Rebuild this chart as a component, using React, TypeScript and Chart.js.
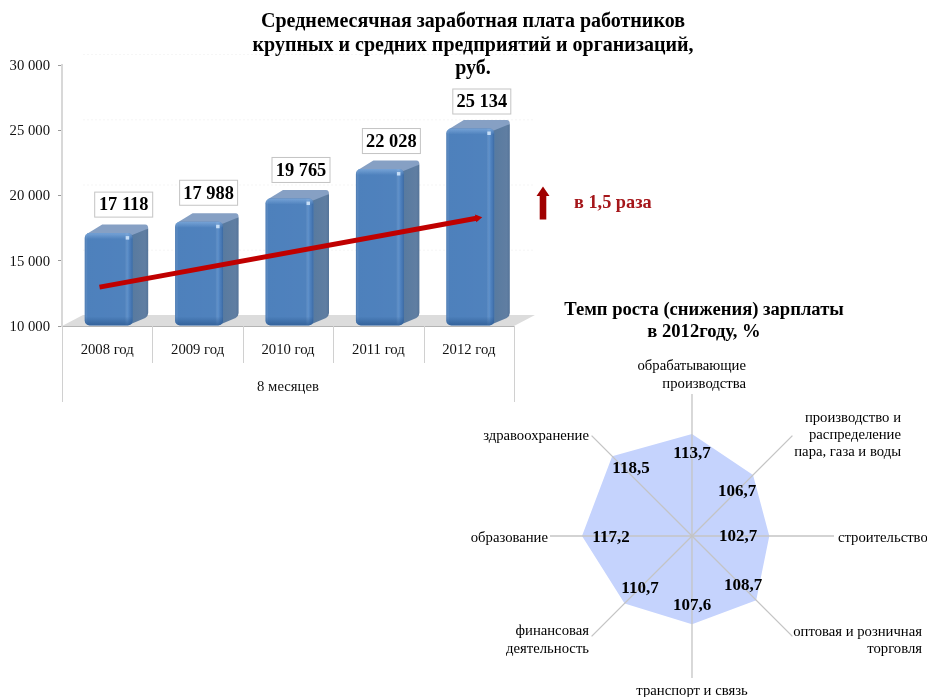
import React, { useEffect, useRef } from "react";
import { Chart, registerables } from "chart.js";

Chart.register(...registerables);

const SERIF = "'Liberation Serif', serif";

// ---- data ----
const years = ["2008 год", "2009 год", "2010 год", "2011 год", "2012 год"];
const salaries = [17118, 17988, 19765, 22028, 25134];
const salaryLabels = ["17 118", "17 988", "19 765", "22 028", "25 134"];
const trendX = [0.415, 4.6];
const trendY = [12980, 18280];
const periodLabel = "8 месяцев";

const sectors = [
  ["обрабатывающие", "производства"],
  ["производство и", "распределение", "пара, газа и воды"],
  ["строительство"],
  ["оптовая и розничная", "торговля"],
  ["транспорт и связь"],
  ["финансовая", "деятельность"],
  ["образование"],
  ["здравоохранение"],
];
const growth = [113.7, 106.7, 102.7, 108.7, 107.6, 110.7, 117.2, 118.5];
const growthLabels = ["113,7", "106,7", "102,7", "108,7", "107,6", "110,7", "117,2", "118,5"];

const mainTitle = [
  "Среднемесячная заработная плата работников",
  "крупных и средних предприятий и организаций,",
  "руб.",
];
const radarTitle = ["Темп роста (снижения) зарплаты", "в 2012году, %"];
const growthNote = "в 1,5 раза";

// ---- layout ----
const W = 927;
const H = 697;
const BAR_SHIFT = 1.5;
const DEPTH_X = 15.5;
const DEPTH_Y = 8.5;
const BAR_LABEL_DX = [15, 9.5, 11.5, 11.5, 11.5];
const BAR_LABEL_DY = [28.5, 29, 28.6, 28, 27];
const VALUE_POS = [
  [0, -83],
  [45, -45],
  [46, 0],
  [51, 49],
  [0, 69],
  [-52, 52],
  [-81, 1],
  [-61, -68],
];
type Lab = { x: number; ys: number[]; align: CanvasTextAlign };
const SECTOR_POS: Lab[] = [
  { x: 746, ys: [365, 383], align: "right" },
  { x: 901, ys: [417, 434, 451], align: "right" },
  { x: 838, ys: [537], align: "left" },
  { x: 922, ys: [631, 648], align: "right" },
  { x: 692, ys: [690], align: "center" },
  { x: 589, ys: [630, 648], align: "right" },
  { x: 548, ys: [537], align: "right" },
  { x: 589, ys: [435], align: "right" },
];

function put(
  ctx: CanvasRenderingContext2D,
  s: string,
  x: number,
  y: number,
  font: string,
  align: CanvasTextAlign = "center",
  color = "#000"
) {
  ctx.font = font;
  ctx.textAlign = align;
  ctx.textBaseline = "middle";
  ctx.fillStyle = color;
  ctx.fillText(s, x, y + 1);
}

const bar3d = {
  id: "bar3d",
  beforeDatasetsDraw(chart: any) {
    const { ctx, chartArea: a } = chart;
    const yScale = chart.scales.y;
    ctx.save();
    // back-wall grid
    ctx.strokeStyle = "rgba(190,190,190,0.14)";
    ctx.setLineDash([2, 2]);
    ctx.lineWidth = 1;
    yScale.ticks.forEach((t: any) => {
      if (t.value === yScale.min) return;
      const y = yScale.getPixelForValue(t.value) - 10.5;
      ctx.beginPath();
      ctx.moveTo(a.left + 21, y);
      ctx.lineTo(a.right + 21, y);
      ctx.stroke();
    });
    ctx.setLineDash([]);
    // floor
    ctx.fillStyle = "#dcdcdc";
    ctx.beginPath();
    ctx.moveTo(a.left, a.bottom);
    ctx.lineTo(a.left + 21, a.bottom - 11);
    ctx.lineTo(a.right + 21, a.bottom - 11);
    ctx.lineTo(a.right, a.bottom);
    ctx.closePath();
    ctx.fill();
    // category separators
    ctx.strokeStyle = "#d0d0d0";
    ctx.lineWidth = 1;
    const xs = chart.scales.x;
    for (let i = 0; i <= years.length; i++) {
      const x = Math.round(a.left + (i * (a.right - a.left)) / years.length) + 0.5;
      const end = i === 0 || i === years.length ? xs.bottom : a.bottom + 37;
      ctx.beginPath();
      ctx.moveTo(x, a.bottom);
      ctx.lineTo(x, end);
      ctx.stroke();
    }
    ctx.restore();
  },
  beforeDatasetDraw(chart: any, args: any) {
    if (args.meta.type !== "bar") return;
    const { ctx } = chart;
    ctx.save();
    ctx.translate(BAR_SHIFT, 0);
    args.meta.data.forEach((b: any) => {
      const l = b.x - b.width / 2;
      const r = b.x + b.width / 2;
      const t = b.y;
      const bt = b.base;
      // top face
      ctx.fillStyle = "#86A0C4";
      ctx.beginPath();
      ctx.moveTo(l + 2, t + 1);
      ctx.lineTo(l + 2 + DEPTH_X, t - DEPTH_Y);
      ctx.lineTo(r + DEPTH_X - 3, t - DEPTH_Y);
      ctx.quadraticCurveTo(r + DEPTH_X, t - DEPTH_Y, r + DEPTH_X, t - DEPTH_Y + 4);
      ctx.lineTo(r, t + 6);
      ctx.closePath();
      ctx.fill();
      // side face
      const g = ctx.createLinearGradient(r, 0, r + DEPTH_X, 0);
      g.addColorStop(0, "#587A9F");
      g.addColorStop(0.8, "#607EA2");
      g.addColorStop(1, "#557499");
      ctx.fillStyle = g;
      ctx.beginPath();
      ctx.moveTo(r - 3, t + 3);
      ctx.lineTo(r + DEPTH_X, t - DEPTH_Y + 4);
      ctx.lineTo(r + DEPTH_X, bt - DEPTH_Y - 4);
      ctx.quadraticCurveTo(r + DEPTH_X, bt - DEPTH_Y - 1, r + DEPTH_X - 3, bt - DEPTH_Y + 1);
      ctx.lineTo(r - 3, bt - 1);
      ctx.closePath();
      ctx.fill();
    });
  },
  afterDatasetDraw(chart: any, args: any) {
    if (args.meta.type !== "bar") return;
    const { ctx } = chart;
    args.meta.data.forEach((b: any) => {
      const l = b.x - b.width / 2;
      const w = b.width;
      const t = b.y;
      const h = b.base - b.y;
      ctx.save();
      ctx.beginPath();
      ctx.roundRect(l, t, w, h, 5);
      ctx.clip();
      const gh = ctx.createLinearGradient(l, 0, l + w, 0);
      gh.addColorStop(0, "rgba(60,100,150,0.35)");
      gh.addColorStop(0.06, "rgba(255,255,255,0.02)");
      gh.addColorStop(0.84, "rgba(255,255,255,0.03)");
      gh.addColorStop(0.9, "rgba(130,180,235,0.3)");
      gh.addColorStop(0.96, "rgba(60,100,160,0.2)");
      gh.addColorStop(1, "rgba(40,80,130,0.5)");
      ctx.fillStyle = gh;
      ctx.fillRect(l, t, w, h);
      const gv = ctx.createLinearGradient(0, b.base - 9, 0, b.base);
      gv.addColorStop(0, "rgba(40,85,140,0)");
      gv.addColorStop(1, "rgba(40,85,140,0.7)");
      ctx.fillStyle = gv;
      ctx.fillRect(l, b.base - 9, w, 9);
      const gt = ctx.createLinearGradient(0, t, 0, t + 6);
      gt.addColorStop(0, "rgba(150,190,235,0.55)");
      gt.addColorStop(1, "rgba(150,190,235,0)");
      ctx.fillStyle = gt;
      ctx.fillRect(l, t, w, 6);
      ctx.fillStyle = "rgba(215,235,255,0.85)";
      ctx.fillRect(l + w - 7, t + 3, 3.5, 3.5);
      ctx.restore();
    });
    ctx.restore();
  },
  afterDraw(chart: any) {
    const { ctx } = chart;
    ctx.save();
    mainTitle.forEach((s, i) =>
      put(ctx, s, 473, 21 + i * 23.5, `bold 20px ${SERIF}`)
    );
    const bars = chart.getDatasetMeta(0).data;
    bars.forEach((b: any, i: number) => {
      const cx = b.x + BAR_SHIFT + BAR_LABEL_DX[i];
      const cy = b.y - BAR_LABEL_DY[i];
      ctx.fillStyle = "#fff";
      ctx.strokeStyle = "#c4c4c4";
      ctx.lineWidth = 1;
      ctx.fillRect(cx - 29, cy - 12.5, 58, 25);
      ctx.strokeRect(cx - 29, cy - 12.5, 58, 25);
      put(ctx, salaryLabels[i], cx, cy, `bold 18.4px ${SERIF}`);
    });
    // growth arrow
    ctx.fillStyle = "#A00000";
    ctx.beginPath();
    ctx.moveTo(543, 186.5);
    ctx.lineTo(549.5, 196);
    ctx.lineTo(546.3, 196);
    ctx.lineTo(546.3, 219.5);
    ctx.lineTo(539.7, 219.5);
    ctx.lineTo(539.7, 196);
    ctx.lineTo(536.5, 196);
    ctx.closePath();
    ctx.fill();
    put(ctx, growthNote, 574, 202, `bold 18.3px ${SERIF}`, "left", "#A5161A");
    ctx.restore();
  },
};

const radarText = {
  id: "radarText",
  afterDraw(chart: any) {
    const { ctx } = chart;
    const r = chart.scales.r;
    ctx.save();
    radarTitle.forEach((s, i) => put(ctx, s, 704, 309 + i * 22, `bold 18.6px ${SERIF}`));
    sectors.forEach((lines, i) => {
      const p = SECTOR_POS[i];
      lines.forEach((s, j) => put(ctx, s, p.x, p.ys[j], `14.7px ${SERIF}`, p.align));
    });
    growthLabels.forEach((s, i) => {
      const [dx, dy] = VALUE_POS[i];
      put(ctx, s, r.xCenter + dx, r.yCenter + dy, `bold 17px ${SERIF}`);
    });
    ctx.restore();
  },
};

export default function App() {
  const barRef = useRef<HTMLCanvasElement>(null);
  const radarRef = useRef<HTMLCanvasElement>(null);

  useEffect(() => {
    const bar = new Chart(barRef.current as any, {
      type: "bar",
      data: {
        labels: years,
        datasets: [
          {
            type: "bar",
            data: salaries,
            base: 10000,
            grouped: false,
            backgroundColor: "#4A7EBB",
            barPercentage: 0.531,
            categoryPercentage: 1,
            borderRadius: 5,
            borderSkipped: false,
            order: 2,
          },
          {
            type: "line",
            data: trendX.map((x, i) => ({ x, y: trendY[i] })),
            xAxisID: "x2",
            borderColor: "#C00000",
            backgroundColor: "#C00000",
            borderWidth: 5,
            pointStyle: "triangle",
            pointRadius: [0, 4.5],
            pointRotation: 80,
            pointBorderWidth: 0,
            order: 1,
          },
        ],
      } as any,
      options: {
        responsive: false,
        animation: false,
        devicePixelRatio: 1,
        layout: { padding: { left: 0, top: 65, right: W - 514, bottom: H - 326 - 76 } },
        plugins: { legend: { display: false }, tooltip: { enabled: false }, title: { display: false } },
        scales: {
          x: {
            afterFit: (s: any) => {
              s.height = 76;
            },
            grid: { display: false, drawTicks: false },
            border: { color: "#b4b4b4", width: 1 },
            ticks: {
              padding: 15,
              maxRotation: 0,
              color: "#111",
              font: { family: SERIF, size: 14.7 },
            },
            title: {
              display: true,
              text: periodLabel,
              color: "#111",
              font: { family: SERIF, size: 14.7 },
              padding: { top: 4, bottom: 6 },
            },
          },
          x2: { type: "linear", display: false, min: 0, max: 5, offset: false },
          y: {
            min: 10000,
            max: 30000,
            afterFit: (s: any) => {
              s.width = 62;
            },
            grid: { drawOnChartArea: false, drawTicks: true, tickLength: 4, color: "#9a9a9a" },
            border: { color: "#d8d8d8", width: 2, dash: [2, 1] },
            ticks: {
              stepSize: 5000,
              padding: 8,
              labelOffset: 1,
              color: "#111",
              font: { family: SERIF, size: 14.7 },
              callback: (v: any) => String(v).replace(/\B(?=(\d{3})+$)/g, " "),
            },
          },
        },
      } as any,
      plugins: [bar3d],
    });

    const radar = new Chart(radarRef.current as any, {
      type: "radar",
      data: {
        labels: sectors,
        datasets: [
          {
            data: growth,
            backgroundColor: "#C5D3FD",
            borderWidth: 0,
            pointRadius: 0,
            fill: true,
          },
        ],
      } as any,
      options: {
        responsive: false,
        animation: false,
        devicePixelRatio: 1,
        layout: { padding: { left: 550, right: 92, top: 394, bottom: 18 } },
        plugins: { legend: { display: false }, tooltip: { enabled: false } },
        scales: {
          r: {
            min: 68.4,
            max: 131.4,
            grid: { display: false, z: 1 },
            angleLines: { display: true, color: "#c4c4c4", lineWidth: 1.3 },
            pointLabels: { display: false },
            ticks: { display: false },
          },
        },
      } as any,
      plugins: [radarText],
    });

    return () => {
      bar.destroy();
      radar.destroy();
    };
  }, []);

  const style: React.CSSProperties = { position: "absolute", left: 0, top: 0 };
  return (
    <div style={{ position: "absolute", left: 0, top: 0, width: W, height: H, background: "#fff", overflow: "hidden" }}>
      <canvas ref={barRef} width={W} height={H} style={style} />
      <canvas ref={radarRef} width={W} height={H} style={style} />
    </div>
  );
}
